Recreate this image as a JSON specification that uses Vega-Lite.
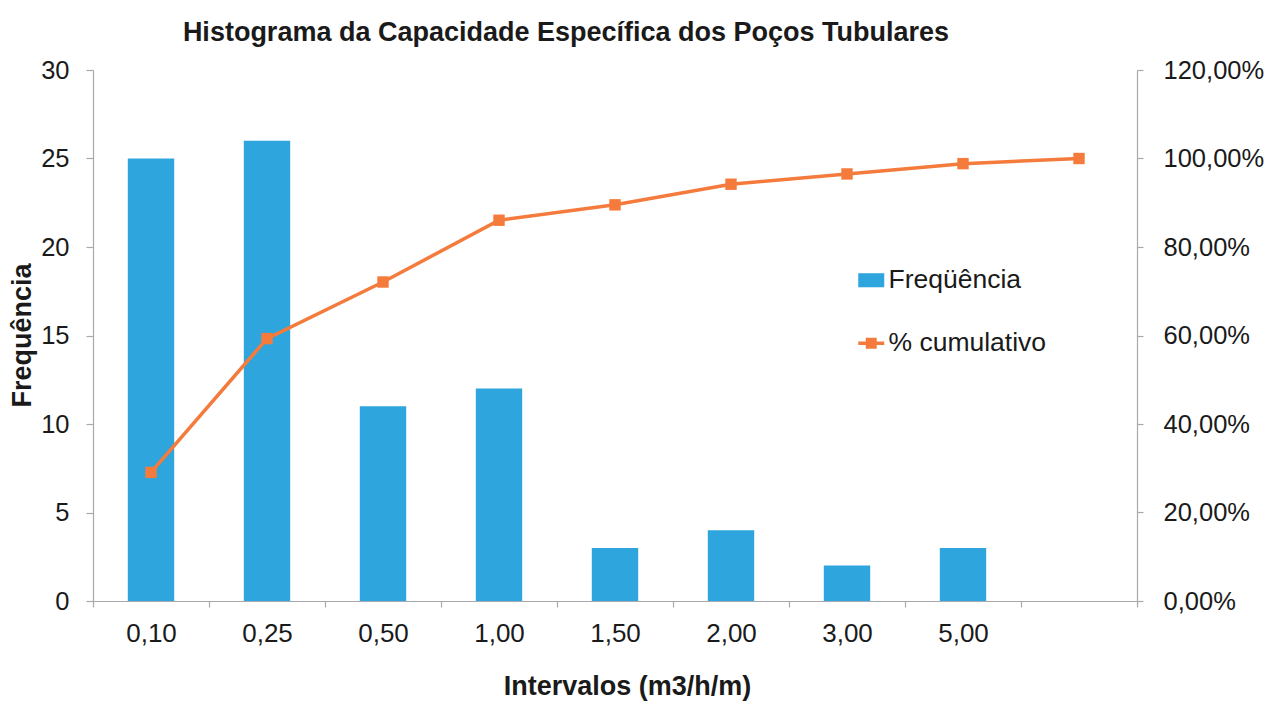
{
  "$schema": "https://vega.github.io/schema/vega-lite/v6.json",
  "autosize": {"type": "none"},
  "padding": {"left": 93, "top": 70, "right": 132, "bottom": 101},
  "width": 1044,
  "height": 531,
  "background": "#ffffff",
  "title": {
    "text": "Histograma da Capacidade Específica dos Poços Tubulares",
    "font": "Liberation Sans",
    "fontSize": 27,
    "fontWeight": "bold",
    "color": "#1a1a1a",
    "anchor": "middle",
    "frame": "group",
    "baseline": "alphabetic",
    "offset": 30,
    "dx": -49,
    "dy": 40
  },
  "config": {
    "locale": {"number": {"decimal": ",", "thousands": ".", "grouping": [3], "currency": ["R$", ""]}},
    "view": {"stroke": null},
    "font": "Liberation Sans",
    "axis": {
      "labelFont": "Liberation Sans",
      "labelFontSize": 25.5,
      "labelColor": "#1a1a1a",
      "titleFont": "Liberation Sans",
      "titleFontSize": 27,
      "titleFontWeight": "bold",
      "titleColor": "#1a1a1a",
      "domainColor": "#a6a9ad",
      "tickColor": "#a6a9ad",
      "domainWidth": 1.2,
      "tickWidth": 1.2,
      "grid": false
    }
  },
  "data": {
    "values": [
      {"intervalo": "0,10", "frequencia": 25, "cumulativo": 0.2907},
      {"intervalo": "0,25", "frequencia": 26, "cumulativo": 0.5930},
      {"intervalo": "0,50", "frequencia": 11, "cumulativo": 0.7209},
      {"intervalo": "1,00", "frequencia": 12, "cumulativo": 0.8605},
      {"intervalo": "1,50", "frequencia": 3, "cumulativo": 0.8953},
      {"intervalo": "2,00", "frequencia": 4, "cumulativo": 0.9419},
      {"intervalo": "3,00", "frequencia": 2, "cumulativo": 0.9651},
      {"intervalo": "5,00", "frequencia": 3, "cumulativo": 0.9884},
      {"intervalo": "Mais", "frequencia": 0, "cumulativo": 1.0}
    ]
  },
  "encoding": {
    "x": {
      "field": "intervalo",
      "type": "nominal",
      "sort": null,
      "scale": {"paddingInner": 0, "paddingOuter": 0},
      "axis": {
        "title": "Intervalos (m3/h/m)",
        "labelAngle": 0,
        "labelFontSize": 26,
        "tickBand": "extent",
        "tickSize": 6,
        "labelPadding": 13,
        "labelExpr": "datum.value === 'Mais' ? '' : datum.value",
        "titleX": 534,
        "titleY": 85,
        "titleBaseline": "middle",
        "titleAnchor": "middle",
        "titleAlign": "center"
      }
    }
  },
  "layer": [
    {
      "mark": {"type": "bar", "width": {"band": 0.4}, "color": "#2EA5DC"},
      "encoding": {
        "y": {
          "field": "frequencia",
          "type": "quantitative",
          "scale": {"domain": [0, 30], "nice": false},
          "axis": {
            "title": "Frequência",
            "values": [0, 5, 10, 15, 20, 25, 30],
            "tickSize": 7,
            "labelPadding": 17,
            "titleX": -71,
            "titleY": 265,
            "titleAngle": -90,
            "titleBaseline": "middle",
            "titleAlign": "center"
          }
        },
        "color": {
          "datum": "Freqüência",
          "type": "nominal",
          "scale": {"domain": ["Freqüência", "% cumulativo"], "range": ["#2EA5DC", "#F47B3C"]},
          "legend": {
            "title": null,
            "orient": "none",
            "legendX": 765,
            "legendY": 197,
            "direction": "vertical",
            "padding": 0,
            "rowPadding": 36,
            "labelFont": "Liberation Sans",
            "labelFontSize": 26.5,
            "labelColor": "#1a1a1a",
            "labelOffset": 4,
            "symbolSize": 676,
            "symbolStrokeWidth": 0,
            "encode": {
              "symbols": {
                "update": {
                  "shape": {"signal": "datum.value === 'Freqüência' ? 'M-1,-0.54H1V0.54H-1Z' : 'M-1,-0.13H1V0.13H-1Z M-0.42,-0.42H0.42V0.42H-0.42Z'"},
                  "fill": {"signal": "datum.value === 'Freqüência' ? '#2EA5DC' : '#F47B3C'"},
                  "stroke": {"value": "transparent"},
                  "strokeWidth": {"value": 0},
                  "opacity": {"value": 1},
                  "fillOpacity": {"value": 1}
                }
              }
            }
          }
        }
      }
    },
    {
      "mark": {
        "type": "line",
        "color": "#F47B3C",
        "strokeWidth": 3.5,
        "point": {"shape": "square", "size": 130, "filled": true, "color": "#F47B3C", "opacity": 1}
      },
      "encoding": {
        "y": {
          "field": "cumulativo",
          "type": "quantitative",
          "scale": {"domain": [0, 1.2], "nice": false},
          "axis": {
            "orient": "right",
            "title": null,
            "format": ".2%",
            "values": [0, 0.2, 0.4, 0.6, 0.8, 1.0, 1.2],
            "tickSize": 6,
            "labelPadding": 20
          }
        },
        "color": {"datum": "% cumulativo", "type": "nominal"}
      }
    }
  ],
  "resolve": {"scale": {"y": "independent"}}
}
